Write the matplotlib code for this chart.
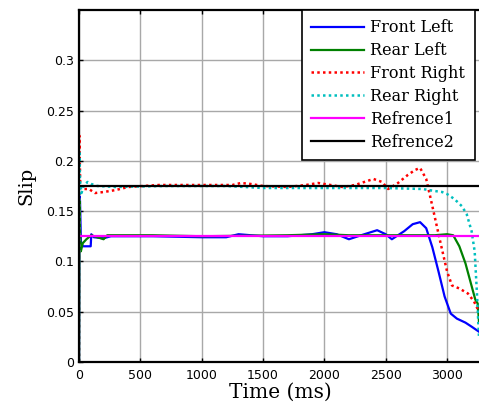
import matplotlib.pyplot as plt

# values
t_fl = [0, 3, 8, 15, 30, 60, 95, 100, 120, 200, 260, 600, 1000, 1200, 1300, 1400, 1500, 1700,
        1900, 2000, 2100, 2200, 2300, 2430, 2500, 2550, 2650, 2720, 2780, 2830, 2880, 2930,
        2980, 3030, 3080, 3150, 3200, 3260]
fl = [0, 0.165, 0.16, 0.12, 0.115, 0.115, 0.115, 0.127, 0.124, 0.123, 0.125, 0.125, 0.124,
      0.124, 0.127, 0.126, 0.125, 0.125, 0.127, 0.129, 0.127, 0.122, 0.126, 0.131, 0.127,
      0.122, 0.130, 0.137, 0.139, 0.133, 0.114, 0.09, 0.065, 0.048, 0.043, 0.039, 0.035, 0.030]

t_rl = [0, 3, 8, 15, 30, 60, 100, 150, 200, 230, 600, 1000, 1700, 2000, 2200, 2900, 3000,
        3050, 3100, 3150, 3190, 3230, 3250, 3260]
rl = [0, 0.16, 0.13, 0.11, 0.118, 0.122, 0.126, 0.124, 0.122, 0.126, 0.126, 0.125, 0.126,
      0.127, 0.126, 0.126, 0.127, 0.126, 0.115, 0.098, 0.080, 0.062, 0.058, 0.040]

t_fr = [0, 3, 6, 10, 30, 80, 130, 200, 300, 400, 650, 1000, 1250, 1320, 1400, 1500, 1700,
        1850, 1950, 2050, 2150, 2250, 2400, 2470, 2520, 2600, 2680, 2740, 2780, 2830, 2880,
        2940, 3000, 3040, 3100, 3170, 3220, 3260]
fr = [0, 0.225, 0.2, 0.176, 0.172, 0.172, 0.168, 0.169, 0.171, 0.174, 0.176, 0.176, 0.176,
      0.178, 0.177, 0.175, 0.174, 0.176, 0.178, 0.176, 0.174, 0.176, 0.182, 0.179, 0.172,
      0.178, 0.186, 0.191, 0.193, 0.182, 0.155, 0.122, 0.09, 0.076, 0.073, 0.068, 0.060, 0.050]

t_rr = [0, 3, 8, 20, 40, 70, 100, 150, 300, 700, 1200, 1500, 2000, 2500, 2800, 2900, 2960,
        3000, 3060, 3120, 3160, 3200, 3225, 3245, 3260]
rr = [0, 0.21, 0.18, 0.168, 0.176, 0.179, 0.177, 0.175, 0.174, 0.175, 0.175, 0.173, 0.173,
      0.173, 0.172, 0.17, 0.169, 0.167, 0.162, 0.155, 0.147, 0.13, 0.11, 0.065, 0.025]

t_ref = [0, 3300]
ref1 = [0.125, 0.125]
ref2 = [0.175, 0.175]

labels = ['Front Left', 'Rear Left', 'Front Right', 'Rear Right', 'Refrence1', 'Refrence2']

fig = plt.figure(figsize=(4.79, 4.07), dpi=100)
ax = fig.add_axes([0.165, 0.111, 0.8426, 0.864])

ax.plot(t_fl, fl, color='#0000ff', lw=1.6, label=labels[0])
ax.plot(t_rl, rl, color='#008000', lw=1.6, label=labels[1])
ax.plot(t_fr, fr, color='#ff0000', lw=1.8, ls=(0, (1, 1.3)), label=labels[2])
ax.plot(t_rr, rr, color='#00bfbf', lw=1.8, ls=(0, (1, 1.3)), label=labels[3])
ax.plot(t_ref, ref1, color='#ff00ff', lw=1.6, label=labels[4])
ax.plot(t_ref, ref2, color='black', lw=1.6, label=labels[5])

ax.set_xlim(0, 3290)
ax.set_ylim(0, 0.35)
ax.set_xticks([0, 500, 1000, 1500, 2000, 2500, 3000])
ax.set_yticks([0, 0.05, 0.1, 0.15, 0.2, 0.25, 0.3])
ax.set_yticklabels(['0', '0.05', '0.1', '0.15', '0.2', '0.25', '0.3'])
ax.tick_params(direction='in', length=3, width=1, labelsize=9, top=True)
ax.tick_params(axis='y', pad=3.5)
ax.tick_params(axis='x', pad=5)
ax.grid(True, color='#a8a8a8', lw=1)
for s in ax.spines.values():
    s.set_linewidth(1.6)

ax.set_xlabel('Time (ms)', family='DejaVu Serif', fontsize=14.5, labelpad=1)
ax.set_ylabel('Slip', family='DejaVu Serif', fontsize=14, labelpad=8)

leg = ax.legend(loc='upper left', bbox_to_anchor=(302 / 479, 1 - 10 / 407),
                bbox_transform=fig.transFigure,
                prop={'family': 'DejaVu Serif', 'size': 11.5},
                fancybox=False, framealpha=1, edgecolor='black', handlelength=3.3,
                handletextpad=0.4, labelspacing=0.37, borderaxespad=0, borderpad=0.58)
leg.get_frame().set_linewidth(1.2)

fig.savefig('out.png', dpi=100)
